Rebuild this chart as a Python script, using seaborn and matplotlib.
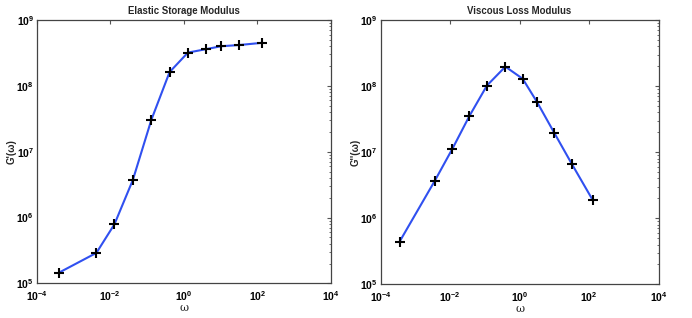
import matplotlib
matplotlib.use('Agg')
import matplotlib.pyplot as plt
import matplotlib.ticker as mticker
import pandas as pd
import seaborn as sns

sns.set_style('white')
plt.rcParams['font.family'] = ['Liberation Sans', 'DejaVu Sans']

# frequencies
omega_storage = [4.1e-4, 4.2e-3, 1.3e-2, 4.1e-2, 1.31e-1, 4.1e-1, 1.29, 3.9, 10.3, 32, 130]
g_storage = [1.46e5, 2.9e5, 7.9e5, 3.7e6, 3.05e7, 1.62e8, 3.2e8, 3.6e8, 4.0e8, 4.17e8, 4.5e8]

omega_loss = [3.5e-4, 3.6e-3, 1.17e-2, 3.6e-2, 1.15e-1, 3.9e-1, 1.23, 3.2, 10, 32, 126]
g_loss = [4.4e5, 3.66e6, 1.13e7, 3.53e7, 1.02e8, 1.97e8, 1.29e8, 5.7e7, 1.95e7, 6.6e6, 1.9e6]

fig = plt.figure(figsize=(6.92, 3.18), dpi=100)
ax1 = fig.add_axes([0.053, 0.109, 0.4253, 0.828])
ax2 = fig.add_axes([0.550, 0.106, 0.4017, 0.831])

panels = [
    (ax1, omega_storage, g_storage, "Elastic Storage Modulus", "G'(\u03c9)"),
    (ax2, omega_loss, g_loss, "Viscous Loss Modulus", "G''(\u03c9)"),
]

for ax, w, g, title, ylab in panels:
    df = pd.DataFrame({'omega': w, 'G': g})
    sns.lineplot(x='omega', y='G', data=df, ax=ax, color='#3050f0', linewidth=1.5)
    sns.scatterplot(x='omega', y='G', data=df, ax=ax, marker='+', color='black',
                    s=50, linewidth=1.5, zorder=3)
    ax.set_xscale('log')
    ax.set_yscale('log')
    ax.set_xlim(1e-4, 1e4)
    ax.set_ylim(1e5, 1e9)
    ax.xaxis.set_major_locator(mticker.FixedLocator([1e-4, 1e-2, 1, 1e2, 1e4]))
    ax.xaxis.set_minor_locator(mticker.NullLocator())
    ax.yaxis.set_major_locator(mticker.FixedLocator([1e5, 1e6, 1e7, 1e8, 1e9]))
    ax.yaxis.set_minor_locator(mticker.LogLocator(base=10, subs=range(2, 10), numticks=20))
    ax.yaxis.set_minor_formatter(mticker.NullFormatter())
    ax.tick_params(which='both', direction='in', top=True, right=True,
                   labelsize=7.5, colors='#555555', labelcolor='black', pad=2)
    ax.tick_params(axis='x', pad=4)
    ax.tick_params(which='major', length=3, width=0.8)
    ax.tick_params(which='minor', length=1.5, width=0.6)
    for lab in ax.get_xticklabels() + ax.get_yticklabels():
        lab.set_fontweight('bold')
    for sp in ax.spines.values():
        sp.set_color('#444444')
        sp.set_linewidth(0.9)
    ax.set_title(title, fontsize=6.9, fontweight='bold', pad=4)
    ax.set_xlabel('\u03c9', fontsize=8, family='DejaVu Serif', labelpad=0)
    ax.set_ylabel(ylab, fontsize=7, fontweight='bold', labelpad=0)

fig.savefig('out.png', dpi=100)
